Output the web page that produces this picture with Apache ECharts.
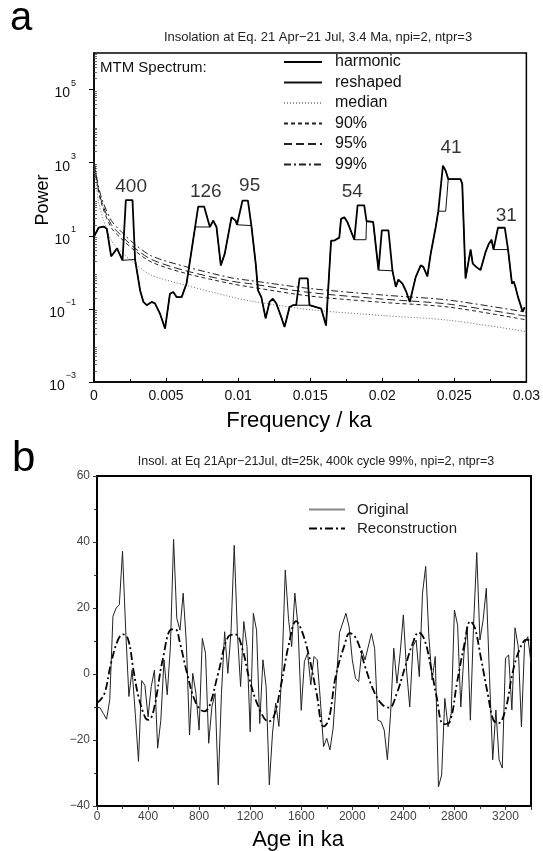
<!DOCTYPE html>
<html>
<head>
<meta charset="utf-8">
<script src="https://cdn.jsdelivr.net/npm/echarts@6/dist/echarts.min.js"></script>
<style>
html,body{margin:0;padding:0;background:#fff;}
#chart{width:543px;height:851px;}
</style>
</head>
<body>
<div id="chart"></div>
<script>
// ---------- Panel a: MTM spectrum ----------
const harmonicFreq = [0, 0.00032, 0.00066, 0.00089, 0.00119, 0.00135, 0.00145, 0.00159, 0.00198, 0.00221, 0.00267, 0.00285, 0.0032, 0.00343, 0.00366, 0.004, 0.00423, 0.00458, 0.00493, 0.00527, 0.0055, 0.00573, 0.00608, 0.00642, 0.00677, 0.00723, 0.00764, 0.00804, 0.00827, 0.0085, 0.0088, 0.00907, 0.00954, 0.00965, 0.00983, 0.00992, 0.0103, 0.01068, 0.01092, 0.01122, 0.01138, 0.01161, 0.01191, 0.01218, 0.01241, 0.01265, 0.01299, 0.01322, 0.01357, 0.0138, 0.01403, 0.01426, 0.01483, 0.01495, 0.01541, 0.01576, 0.0161, 0.01645, 0.01668, 0.01702, 0.01714, 0.01737, 0.0176, 0.01806, 0.01829, 0.01875, 0.01891, 0.01937, 0.01974, 0.01997, 0.02043, 0.02071, 0.02094, 0.02112, 0.0214, 0.02167, 0.02191, 0.02232, 0.02267, 0.02285, 0.02313, 0.02336, 0.02371, 0.02389, 0.02421, 0.0244, 0.02458, 0.02543, 0.02555, 0.02578, 0.02613, 0.02628, 0.02651, 0.02682, 0.02716, 0.02739, 0.02758, 0.02772, 0.02803, 0.0285, 0.02873, 0.029, 0.02912, 0.02924, 0.02942, 0.02958, 0.02974, 0.02988];
const harmonicPower = [9.5, 16.6, 17.8, 15.5, 2.75, 3.3, 2.95, 4.5, 2.14, 95, 95, 2.24, 0.32, 0.155, 0.126, 0.155, 0.141, 0.074, 0.029, 0.26, 0.29, 0.21, 0.21, 0.49, 4.0, 63, 63, 17.4, 26, 17.4, 1.55, 3.2, 32, 36, 26, 20, 91, 91, 19, 1.74, 0.32, 0.21, 0.055, 0.155, 0.19, 0.141, 0.06, 0.032, 0.112, 0.126, 0.126, 0.68, 0.68, 0.126, 0.112, 0.102, 0.035, 7.4, 7.4, 8.9, 29, 32, 23, 7.8, 68, 68, 25, 24, 1.15, 14, 14, 1.1, 0.4, 0.63, 0.49, 0.29, 0.155, 0.74, 1.55, 1.41, 0.78, 3.2, 17.4, 47, 830, 600, 355, 355, 263, 0.68, 4.2, 1.74, 1.41, 1.15, 3.5, 6.0, 7.8, 4.2, 16.6, 16.6, 4.2, 0.49, 0.56, 0.4, 0.21, 0.135, 0.083, 0.112];

const reshapedFreq = [0, 0.00032, 0.00066, 0.00089, 0.00119, 0.00135, 0.00145, 0.00159, 0.00198, 0.00285, 0.0032, 0.00343, 0.00366, 0.004, 0.00423, 0.00458, 0.00493, 0.00527, 0.0055, 0.00573, 0.00608, 0.00642, 0.00677, 0.00702, 0.00804, 0.00827, 0.0085, 0.0088, 0.00907, 0.00954, 0.00965, 0.00983, 0.00992, 0.01092, 0.01122, 0.01138, 0.01161, 0.01191, 0.01218, 0.01241, 0.01265, 0.01299, 0.01322, 0.01357, 0.0138, 0.01403, 0.01495, 0.01541, 0.01576, 0.0161, 0.01645, 0.01668, 0.01702, 0.01714, 0.01737, 0.0176, 0.01806, 0.01887, 0.01891, 0.01937, 0.01974, 0.02071, 0.02094, 0.02112, 0.0214, 0.02167, 0.02191, 0.02232, 0.02267, 0.02285, 0.02313, 0.02336, 0.02371, 0.02389, 0.0244, 0.02458, 0.02543, 0.02555, 0.02578, 0.02613, 0.02628, 0.02651, 0.02682, 0.02716, 0.02739, 0.02758, 0.02772, 0.02873, 0.029, 0.02912, 0.02924, 0.02942, 0.02958, 0.02974, 0.02988];
const reshapedPower = [9.5, 16.6, 17.8, 15.5, 2.75, 3.3, 2.95, 4.5, 2.14, 2.24, 0.32, 0.155, 0.126, 0.155, 0.141, 0.074, 0.029, 0.26, 0.29, 0.21, 0.21, 0.49, 4.0, 17.4, 17.4, 26, 17.4, 1.55, 3.2, 32, 36, 26, 20, 19, 1.74, 0.32, 0.21, 0.055, 0.155, 0.19, 0.141, 0.06, 0.032, 0.112, 0.126, 0.126, 0.126, 0.112, 0.102, 0.035, 7.4, 7.4, 8.9, 29, 32, 23, 7.8, 7.8, 25, 24, 1.15, 1.1, 0.4, 0.63, 0.49, 0.29, 0.155, 0.74, 1.55, 1.41, 0.78, 3.2, 17.4, 47, 47, 355, 355, 263, 0.68, 4.2, 1.74, 1.41, 1.15, 3.5, 6.0, 7.8, 4.2, 4.2, 0.49, 0.56, 0.4, 0.21, 0.135, 0.083, 0.112];

const confFreq = [0, 0.0003, 0.0006, 0.0012, 0.0018, 0.0028, 0.004, 0.0063, 0.0095, 0.0108, 0.015, 0.02, 0.0246, 0.03];
const medianPower = [930, 91, 32, 7.4, 4.0, 1.78, 0.83, 0.45, 0.214, 0.166, 0.095, 0.066, 0.049, 0.024];
const conf90Power = [1120, 174, 60, 16.6, 9.1, 4.0, 1.9, 0.95, 0.49, 0.40, 0.224, 0.151, 0.112, 0.05];
const conf95Power = [1120, 190, 71, 20.4, 11.0, 4.7, 2.24, 1.12, 0.575, 0.49, 0.28, 0.186, 0.135, 0.063];
const conf99Power = [1120, 234, 89, 26.3, 14.1, 6.0, 2.8, 1.45, 0.71, 0.60, 0.36, 0.24, 0.174, 0.081];

const peakLabels = ['400', '126', '95', '54', '41', '31'];
const peakLabelFreq = [0.002575, 0.00776, 0.0108, 0.01792, 0.02477, 0.0286];
const peakLabelPower = [214, 155, 234, 155, 2510, 36];

const powerLabelTicks = [1e-3, 1e-1, 1e1, 1e3, 1e5];

// ---------- Panel b: time series ----------
const ageOriginal = [0, 25, 50, 75, 100, 125, 150, 175, 200, 225, 250, 275, 300, 325, 350, 375, 400, 425, 450, 475, 500, 525, 550, 575, 600, 625, 650, 675, 700, 725, 750, 775, 800, 825, 850, 875, 900, 925, 950, 975, 1000, 1025, 1050, 1075, 1100, 1125, 1150, 1175, 1200, 1225, 1250, 1275, 1300, 1325, 1350, 1375, 1400, 1425, 1450, 1475, 1500, 1525, 1550, 1575, 1600, 1625, 1650, 1675, 1700, 1725, 1750, 1775, 1800, 1825, 1850, 1875, 1900, 1950, 1975, 2000, 2025, 2050, 2075, 2100, 2150, 2175, 2200, 2225, 2250, 2275, 2300, 2325, 2350, 2375, 2400, 2425, 2450, 2475, 2500, 2525, 2550, 2575, 2600, 2625, 2650, 2675, 2700, 2725, 2750, 2775, 2800, 2825, 2850, 2875, 2900, 2925, 2950, 2975, 3000, 3025, 3050, 3075, 3100, 3125, 3150, 3175, 3200, 3225, 3250, 3275, 3300, 3325, 3350, 3375, 3400];
const original = [-10, -10.3, -12, -13.7, -7.8, 17.5, 20, 21, 37.2, 13, -6.8, 1.3, -12, -26.5, -2, -3.4, -13, -3.8, 1.2, -22.5, -14, 4.3, -6.3, 8.3, 40.8, 16.9, 13.3, 24.5, 9.3, -18.5, 0.2, -5.9, -17, 10.8, 6.3, -21, -9.9, -5.9, -33.6, -5.9, 12.8, 0.2, 12.8, 39, 12.3, -3.8, 15.9, 8.3, -17.5, 18.4, 13.3, -15, 4.3, -3.8, -33.6, -17.9, -8.8, -15.9, 2.3, 31.5, 16.9, 8.3, 24.5, 14.3, -11, 3.8, 6.3, -3.3, 5.3, 4.3, -8, -22, -19.5, -23, -16.4, -2, 12.5, 18.4, 14.3, 4.3, -1.3, -2.3, 7.2, 4.3, 12.3, 7.8, -14, -14.4, -17, -26, -12, 7.8, -2.8, 6.3, 17.9, 1.2, -10, 8.3, 10.3, -0.8, 24.5, 32.6, 11.3, -1.8, 5.3, -34.2, -30.6, -7.4, -16, -12, 19.4, 14.8, -10, 6.3, 14.3, -14, 14.8, 36.8, 10.3, 16.4, 26, -0.8, -26, -10.9, -26, -28.5, 4.8, 5.8, -10.9, 14, 8.3, -16, 9.3, 11.3, 3.3];

const ageRecon = [0, 55, 110, 165, 205, 245, 285, 325, 380, 405, 445, 515, 585, 615, 650, 705, 775, 840, 880, 950, 1030, 1085, 1140, 1195, 1275, 1345, 1385, 1440, 1505, 1560, 1600, 1655, 1720, 1775, 1815, 1870, 1940, 1980, 2035, 2100, 2170, 2235, 2290, 2345, 2415, 2470, 2520, 2565, 2615, 2660, 2715, 2765, 2820, 2875, 2925, 2960, 3010, 3065, 3105, 3145, 3200, 3255, 3310, 3365, 3400];
const reconstruction = [-8.8, -6.3, 3.3, 10.4, 12, 10.4, 1.3, -6.8, -13.4, -13.9, -10.8, 4.4, 13.5, 13.5, 9.4, 0.3, -8.8, -11.3, -9.8, 0.3, 11.4, 12, 7.4, -1.7, -10.8, -14.4, -12.9, -3.7, 9.4, 16, 13.5, 6.4, -5.8, -15.9, -13.9, -0.7, 8.9, 12.4, 10.4, 2.3, -5.3, -9.3, -10.2, -6.3, 2.3, 8.9, 12.6, 10.4, 2.3, -6.8, -15.2, -14.4, -2.7, 8.4, 16, 14, 4.4, -6.8, -13.9, -14.9, -10.8, 0.3, 7.4, 10.4, 10];

// ---------- build ----------
const FONT = "'Liberation Sans', Arial, sans-serif";
const zip = (a, b) => a.map((v, i) => [v, b[i]]);

const minorLogTicks = [];
for (let e = -3; e < 6; e++) {
  for (let m = 2; m <= 9; m++) minorLogTicks.push(m * Math.pow(10, e));
}
const supText = (e) => (e < 0 ? '\u2212' + (-e) : String(e));

const chart = echarts.init(document.getElementById('chart'), null, { renderer: 'canvas' });

const option = {
  backgroundColor: '#fff',
  animation: false,
  textStyle: { fontFamily: FONT },
  grid: [
    { left: 94, top: 53, width: 434, height: 329, show: true, borderColor: '#000', borderWidth: 1.5, backgroundColor: 'transparent' },
    { left: 97, top: 476, width: 434, height: 330, show: true, borderColor: '#000', borderWidth: 2, backgroundColor: 'transparent' }
  ],
  xAxis: [
    {
      gridIndex: 0, type: 'value', min: 0, max: 0.03, interval: 0.005,
      axisLine: { show: true, onZero: false, lineStyle: { color: '#000', width: 1.5 } },
      axisTick: { show: true, inside: true, length: 4, lineStyle: { color: '#000' } },
      minorTick: { show: true, splitNumber: 2, length: 3, lineStyle: { color: '#000' } },
      splitLine: { show: false },
      axisLabel: { color: '#111', fontSize: 14, fontFamily: FONT, margin: 7,
        formatter: (v) => (v === 0 ? '0' : String(+v.toFixed(3))) }
    },
    {
      gridIndex: 1, type: 'value', min: 0, max: 3400, interval: 400,
      axisLine: { show: true, onZero: false, lineStyle: { color: '#000', width: 2 } },
      axisTick: { show: true, inside: false, length: 4, lineStyle: { color: '#333' } },
      minorTick: { show: true, splitNumber: 2, length: 3, lineStyle: { color: '#333' } },
      splitLine: { show: false },
      axisLabel: { color: '#444', fontSize: 12, fontFamily: FONT, margin: 5, showMaxLabel: false,
        formatter: (v) => String(v) }
    }
  ],
  yAxis: [
    {
      gridIndex: 0, type: 'log', logBase: 10, min: 1e-3, max: 1e6, splitNumber: 9,
      axisLine: { show: true, onZero: false, lineStyle: { color: '#000', width: 1.5 } },
      axisTick: { show: true, inside: false, length: 5, lineStyle: { color: '#000' }, customValues: powerLabelTicks },
      splitLine: { show: false },
      axisLabel: {
        margin: 18, customValues: powerLabelTicks,
        formatter: (v) => {
          const e = Math.round(Math.log10(v));
          if (Math.abs(e % 2) !== 1) return '';
          return '{b|10}{s|' + supText(e) + '}';
        },
        rich: {
          b: { fontSize: 14, color: '#111', fontFamily: FONT, verticalAlign: 'bottom', lineHeight: 22 },
          s: { fontSize: 9, color: '#111', fontFamily: FONT, verticalAlign: 'top', lineHeight: 22, padding: [0, 0, 0, 1] }
        }
      }
    },
    {
      gridIndex: 0, type: 'log', logBase: 10, min: 1e-3, max: 1e6, position: 'left', offset: 0,
      axisLine: { show: false },
      axisTick: { show: true, inside: true, length: 3, lineStyle: { color: '#444', width: 0.8 }, customValues: minorLogTicks },
      axisLabel: { show: false },
      splitLine: { show: false }
    },
    {
      gridIndex: 1, type: 'value', min: -40, max: 60, interval: 20,
      axisLine: { show: true, onZero: false, lineStyle: { color: '#000', width: 2 } },
      axisTick: { show: true, inside: false, length: 4, lineStyle: { color: '#333' } },
      minorTick: { show: true, splitNumber: 2, length: 3, lineStyle: { color: '#333' } },
      splitLine: { show: false },
      axisLabel: { color: '#444', fontSize: 12, fontFamily: FONT, margin: 7,
        formatter: (v) => (v < 0 ? '\u2212' + (-v) : String(v)) }
    }
  ],
  legend: [
    {
      orient: 'vertical', left: 283, top: 52, padding: 0, itemGap: 0.5,
      itemWidth: 38, itemHeight: 20, selectedMode: false,
      itemStyle: { opacity: 0 },
      textStyle: { fontSize: 16, color: '#111', fontFamily: FONT, padding: [0, 0, 0, 8], lineHeight: 20 },
      data: ['harmonic', 'reshaped', { name: 'median', lineStyle: { color: '#999' } }, '90%', '95%', '99%']
    },
    {
      orient: 'vertical', left: 308, top: 500, padding: 0, itemGap: 0,
      itemWidth: 36, itemHeight: 19, selectedMode: false,
      itemStyle: { opacity: 0 },
      textStyle: { fontSize: 15, color: '#222', fontFamily: FONT, padding: [0, 0, 0, 7], lineHeight: 19 },
      data: [{ name: 'Original', lineStyle: { color: '#888' } }, 'Reconstruction']
    }
  ],
  series: [
    { name: 'median', type: 'line', xAxisIndex: 0, yAxisIndex: 0, symbol: 'none', smooth: 0.3,
      data: zip(confFreq, medianPower), lineStyle: { color: '#666', width: 1, type: [1, 2] }, itemStyle: { color: '#666' } },
    { name: '90%', type: 'line', xAxisIndex: 0, yAxisIndex: 0, symbol: 'none', smooth: 0.3,
      data: zip(confFreq, conf90Power), lineStyle: { color: '#222', width: 1, type: [4, 3] }, itemStyle: { color: '#222' } },
    { name: '95%', type: 'line', xAxisIndex: 0, yAxisIndex: 0, symbol: 'none', smooth: 0.3,
      data: zip(confFreq, conf95Power), lineStyle: { color: '#222', width: 1, type: [8, 4] }, itemStyle: { color: '#222' } },
    { name: '99%', type: 'line', xAxisIndex: 0, yAxisIndex: 0, symbol: 'none', smooth: 0.3,
      data: zip(confFreq, conf99Power), lineStyle: { color: '#222', width: 1, type: [7, 3, 2, 3] }, itemStyle: { color: '#222' } },
    { name: 'reshaped', type: 'line', xAxisIndex: 0, yAxisIndex: 0, symbol: 'none',
      data: zip(reshapedFreq, reshapedPower), lineStyle: { color: '#111', width: 1 }, itemStyle: { color: '#111' } },
    { name: 'harmonic', type: 'line', xAxisIndex: 0, yAxisIndex: 0, symbol: 'none',
      data: zip(harmonicFreq, harmonicPower), lineStyle: { color: '#000', width: 1.8 }, itemStyle: { color: '#000' } },
    { name: 'peaks', type: 'scatter', xAxisIndex: 0, yAxisIndex: 0, symbolSize: 1,
      itemStyle: { color: 'rgba(0,0,0,0)' },
      data: peakLabels.map((t, i) => ({ value: [peakLabelFreq[i], peakLabelPower[i]], name: t })),
      label: { show: true, position: 'inside', formatter: (p) => p.name, fontSize: 19, color: '#000', fontFamily: FONT } },
    { name: 'Original', type: 'line', xAxisIndex: 1, yAxisIndex: 2, symbol: 'none',
      data: zip(ageOriginal, original), lineStyle: { color: '#222', width: 1 }, itemStyle: { color: '#888' } },
    { name: 'Reconstruction', type: 'line', xAxisIndex: 1, yAxisIndex: 2, symbol: 'none', smooth: 0.4,
      data: zip(ageRecon, reconstruction), lineStyle: { color: '#000', width: 1.8, type: [8, 3, 2, 3] }, itemStyle: { color: '#000' } }
  ],
  graphic: [
    { type: 'text', x: 10, y: 19, style: { text: 'a', fontSize: 40, fontFamily: FONT, fill: '#000', align: 'left', verticalAlign: 'middle' } },
    { type: 'text', x: 318, y: 37, style: { text: 'Insolation at Eq. 21 Apr\u221221 Jul, 3.4 Ma, npi=2, ntpr=3', fontSize: 13, fontFamily: FONT, fill: '#222', align: 'center', verticalAlign: 'middle' } },
    { type: 'text', x: 100, y: 68, style: { text: 'MTM Spectrum:', fontSize: 15, fontFamily: FONT, fill: '#111', align: 'left', verticalAlign: 'middle' } },
    { type: 'text', x: 43, y: 200, rotation: Math.PI / 2, style: { text: 'Power', fontSize: 18, fontFamily: FONT, fill: '#000', align: 'center', verticalAlign: 'middle' } },
    { type: 'text', x: 299, y: 421, style: { text: 'Frequency / ka', fontSize: 22, fontFamily: FONT, fill: '#000', align: 'center', verticalAlign: 'middle' } },
    { type: 'text', x: 12, y: 459, style: { text: 'b', fontSize: 42, fontFamily: FONT, fill: '#000', align: 'left', verticalAlign: 'middle' } },
    { type: 'text', x: 316, y: 462, style: { text: 'Insol. at Eq 21Apr\u221221Jul, dt=25k, 400k cycle 99%, npi=2, ntpr=3', fontSize: 12.5, fontFamily: FONT, fill: '#222', align: 'center', verticalAlign: 'middle' } },
    { type: 'text', x: 298, y: 840, style: { text: 'Age in ka', fontSize: 22, fontFamily: FONT, fill: '#000', align: 'center', verticalAlign: 'middle' } }
  ]
};

chart.setOption(option);
</script>
</body>
</html>
